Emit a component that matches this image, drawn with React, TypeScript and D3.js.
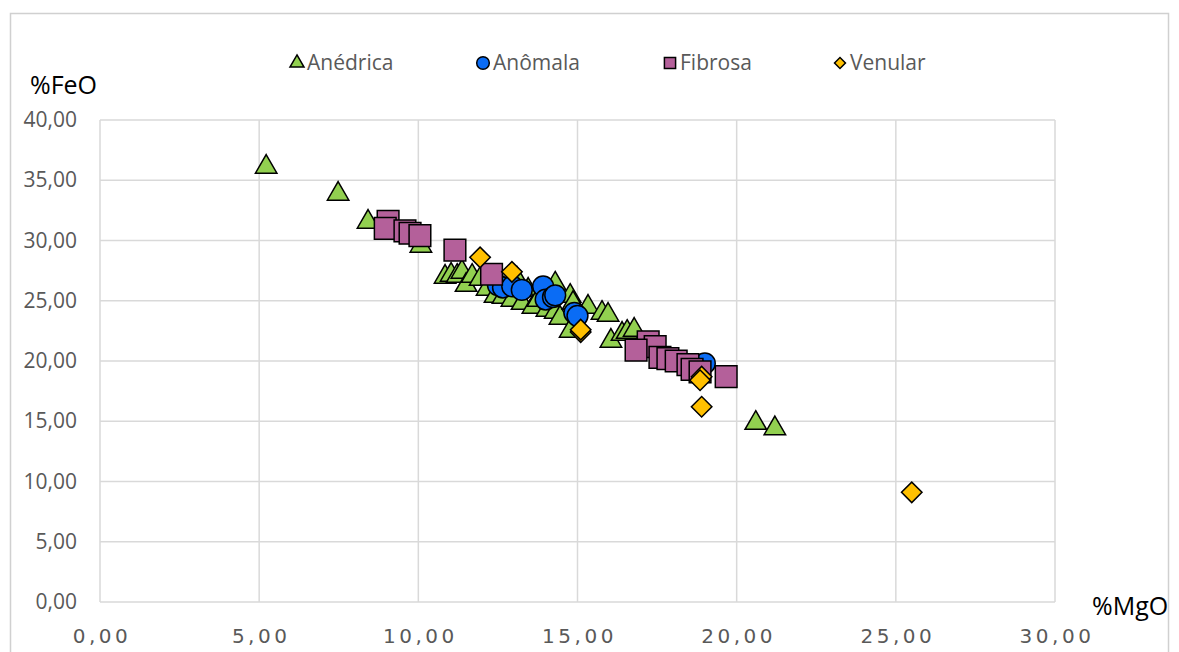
import React from 'react';
import * as d3 from 'd3';

type Pt = [number, number];

// %MgO, %FeO
const anedrica: Pt[] = [
    [5.22, 36.1], [7.48, 33.86], [8.42, 31.54], [10.08, 29.54], [10.84, 26.97],
    [11.03, 27.14], [11.22, 27.05], [11.37, 27.39], [11.5, 26.3], [11.69, 27.05],
    [11.94, 26.8], [12.16, 25.98], [12.41, 25.39], [12.66, 25.3], [12.94, 25.06],
    [13.1, 26.8], [13.26, 24.8], [13.45, 25.89], [13.6, 24.48], [13.76, 25.06],
    [14.04, 24.23], [14.3, 26.4], [14.3, 24.07], [14.45, 23.57], [14.77, 25.39],
    [14.86, 24.8], [14.77, 22.49], [15.33, 24.48], [15.77, 23.98], [15.96, 23.82],
    [16.05, 21.66], [16.4, 22.24], [16.56, 22.4], [16.78, 22.57], [20.6, 14.85],
    [21.2, 14.4],
];
const anomala: Pt[] = [
    [12.5, 26.3], [12.66, 26.1], [12.95, 26.2], [13.25, 25.9], [13.92, 26.2],
    [14.0, 25.1], [14.23, 25.3], [14.3, 25.45], [14.9, 24.0], [15.0, 23.75],
    [19.0, 19.8],
];
const fibrosa: Pt[] = [
    [9.05, 31.6], [8.96, 31.0], [9.58, 30.8], [9.74, 30.6], [10.05, 30.4],
    [11.15, 29.2], [12.3, 27.2], [17.22, 21.6], [17.44, 21.2], [16.84, 20.9],
    [17.59, 20.3], [17.84, 20.2], [18.1, 20.0], [18.47, 19.7], [18.6, 19.3],
    [18.85, 19.1], [19.67, 18.7],
];
const venular: Pt[] = [
    [11.94, 28.6], [12.94, 27.4], [15.1, 22.4], [15.1, 22.6], [18.9, 18.7],
    [18.85, 18.4], [18.9, 16.2], [25.5, 9.1],
];

const xTicks = [0, 5, 10, 15, 20, 25, 30];
const yTicks = [0, 5, 10, 15, 20, 25, 30, 35, 40];
const seriesNames = ['Anédrica', 'Anômala', 'Fibrosa', 'Venular'];

const fmt = (v: number) => v.toFixed(2).replace('.', ',');

const W = 1179;
const H = 652;
const plot = { left: 100, right: 1055, top: 120, bottom: 602 };

const App: React.FC = () => {
    const x = d3.scaleLinear().domain([0, 30]).range([plot.left, plot.right]);
    const y = d3.scaleLinear().domain([0, 40]).range([plot.bottom, plot.top]);

    const tri = d3.symbol().type(d3.symbolTriangle).size(200)()!;
    const circ = d3.symbol().type(d3.symbolCircle).size(340)()!;
    const sq = d3.symbol().type(d3.symbolSquare).size(470)()!;
    const dia = d3.symbol().type(d3.symbolSquare).size(210)()!;

    const series = [
        { name: seriesNames[0], data: anedrica, path: tri, fill: '#92D050', rot: 0 },
        { name: seriesNames[1], data: anomala, path: circ, fill: '#0A6CF5', rot: 0 },
        { name: seriesNames[2], data: fibrosa, path: sq, fill: '#B4609A', rot: 0 },
        { name: seriesNames[3], data: venular, path: dia, fill: '#FFC000', rot: 45 },
    ];

    const legendSym = [
        d3.symbol().type(d3.symbolTriangle).size(85)()!,
        d3.symbol().type(d3.symbolCircle).size(125)()!,
        d3.symbol().type(d3.symbolSquare).size(125)()!,
        d3.symbol().type(d3.symbolSquare).size(60)()!,
    ];
    const legendX = [297, 483, 670, 840];

    return (
        <svg width={W} height={H} style={{ position: 'absolute', left: 0, top: 0, background: '#fff' }}>
            <rect x={10.5} y={13.5} width={1158} height={700} fill="#fff" stroke="#D0D0D0" strokeWidth={1.5} />

            {/* grid */}
            {yTicks.map(t => (
                <line key={'gy' + t} x1={plot.left} x2={plot.right} y1={y(t)} y2={y(t)} stroke="#D9D9D9" strokeWidth={1.5} />
            ))}
            {xTicks.map(t => (
                <line key={'gx' + t} x1={x(t)} x2={x(t)} y1={plot.top} y2={plot.bottom} stroke="#D9D9D9" strokeWidth={1.5} />
            ))}

            {/* tick labels */}
            {yTicks.map(t => (
                <text key={'ty' + t} x={77} y={y(t) + 7} textAnchor="end" fontFamily="Open Sans" fontSize={21} fill="#595959">
                    {fmt(t)}
                </text>
            ))}
            {xTicks.map(t => (
                <text key={'tx' + t} x={x(t) + 2} y={643} textAnchor="middle" fontFamily="DejaVu Sans" fontSize={20} letterSpacing={3.5} fill="#595959">
                    {fmt(t)}
                </text>
            ))}

            {/* axis titles */}
            <text x={30} y={94} fontFamily="Open Sans" fontSize={25} fill="#000">%FeO</text>
            <text x={1092} y={615} fontFamily="Open Sans" fontSize={25} fill="#000">%MgO</text>

            {/* points */}
            {series.map(s => (
                <g key={s.name}>
                    {s.data.map((d, i) => (
                        <path
                            key={i}
                            d={s.path}
                            transform={`translate(${x(d[0])},${y(d[1])}) rotate(${s.rot})`}
                            fill={s.fill}
                            stroke="#000"
                            strokeWidth={1.5}
                        />
                    ))}
                </g>
            ))}

            {/* legend */}
            {series.map((s, i) => (
                <g key={'lg' + s.name} transform={`translate(${legendX[i]},63)`}>
                    <path d={legendSym[i]} transform={`rotate(${s.rot})`} fill={s.fill} stroke="#000" strokeWidth={1.5} />
                    <text x={10} y={7} fontFamily="Open Sans" fontSize={21} fill="#595959">{s.name}</text>
                </g>
            ))}
        </svg>
    );
};

export default App;
